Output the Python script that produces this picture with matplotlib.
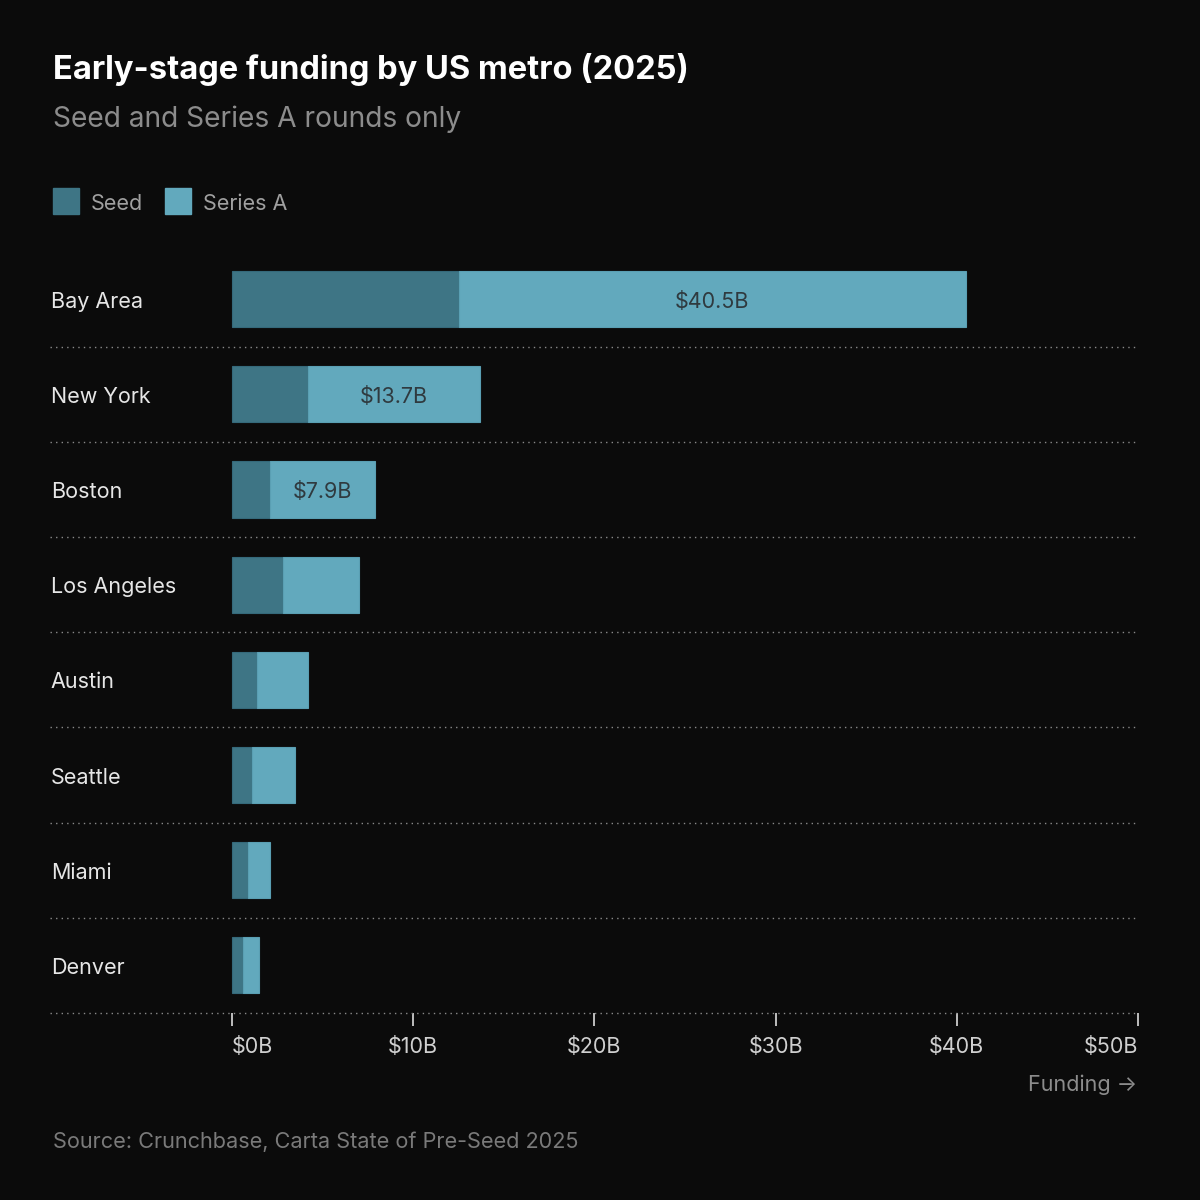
import numpy as np
import matplotlib.pyplot as plt

metros = ['Bay Area', 'New York', 'Boston', 'Los Angeles', 'Austin', 'Seattle', 'Miami', 'Denver']
seed = [12.5, 4.2, 2.1, 2.8, 1.4, 1.1, 0.9, 0.6]
total = [40.5, 13.7, 7.9, 7.0, 4.2, 3.5, 2.1, 1.5]
series_a = [t - s for t, s in zip(total, seed)]
labeled = ['$40.5B', '$13.7B', '$7.9B']
ticks = [0, 10, 20, 30, 40, 50]
tick_labels = ['$0B', '$10B', '$20B', '$30B', '$40B', '$50B']

bg = '#0b0b0b'
c_seed = '#3e7585'
c_a = '#62a9bd'

plt.rcParams['font.family'] = ['Inter', 'DejaVu Sans']

fig = plt.figure(figsize=(12, 12), dpi=100, facecolor=bg)
ax = fig.add_axes([50/1200, 1 - 1013/1200, 1088/1200, (1013 - 251.6)/1200])
ax.set_facecolor(bg)

x0 = -182 / 18.12
ax.set_xlim(x0, 50)
ax.set_ylim(7.5, -0.5)

y = np.arange(len(metros))
ax.barh(y, seed, height=0.59, color=c_seed, edgecolor='#35697a', linewidth=0.8)
ax.barh(y, series_a, left=seed, height=0.59, color=c_a, edgecolor='#5a9fb3', linewidth=0.8)

dy = 2.5 / 95.2  # small downward nudge for text
for i, name in enumerate(metros):
    ax.text(x0 + 0.05, i + dy, name, ha='left', va='center', color='#e6e6e6', fontsize=15.5)
for i, lab in enumerate(labeled):
    ax.text((seed[i] + total[i]) / 2, i + dy, lab, ha='center', va='center',
            color='#2f3a3f', fontsize=15.5)

# dotted separators
for k in range(len(metros)):
    ax.plot([x0, 50], [k + 0.5, k + 0.5], color='#8a8a8a', linestyle=(0, (1, 3)),
            linewidth=1, clip_on=False)

for s in ax.spines.values():
    s.set_visible(False)
ax.set_yticks([])
ax.set_xticks(ticks)
ax.set_xticklabels(tick_labels)
ax.tick_params(axis='x', colors='#dddddd', length=9, width=1.2, pad=8, labelsize=15.5)
tl = ax.get_xticklabels()
tl[0].set_ha('left')
tl[-1].set_ha('right')
for t in tl:
    t.set_color('#d0d0d0')

fig.text(53/1200, 1 - 70/1200, 'Early-stage funding by US metro (2025)', color='white',
         fontsize=23.5, fontweight='bold', va='center', ha='left')
fig.text(53/1200, 1 - 119/1200, 'Seed and Series A rounds only', color='#8c8c8c',
         fontsize=20.3, va='center', ha='left')

# legend
fig.patches.append(plt.Rectangle((53/1200, 1 - 214/1200), 26/1200, 26/1200,
                                 transform=fig.transFigure, color=c_seed))
fig.text(91/1200, 1 - 204/1200, 'Seed', color='#a0a0a0', fontsize=15.5, va='center')
fig.patches.append(plt.Rectangle((165/1200, 1 - 214/1200), 26/1200, 26/1200,
                                 transform=fig.transFigure, color=c_a))
fig.text(203/1200, 1 - 204/1200, 'Series A', color='#a0a0a0', fontsize=15.5, va='center')

fig.text(1137/1200, 1 - 1085/1200, 'Funding →', color='#8c8c8c', fontsize=15.5,
         ha='right', va='center')
fig.text(53/1200, 1 - 1142/1200, 'Source: Crunchbase, Carta State of Pre-Seed 2025',
         color='#7a7a7a', fontsize=15.6, ha='left', va='center')

fig.savefig('out.png', dpi=100, facecolor=bg)
